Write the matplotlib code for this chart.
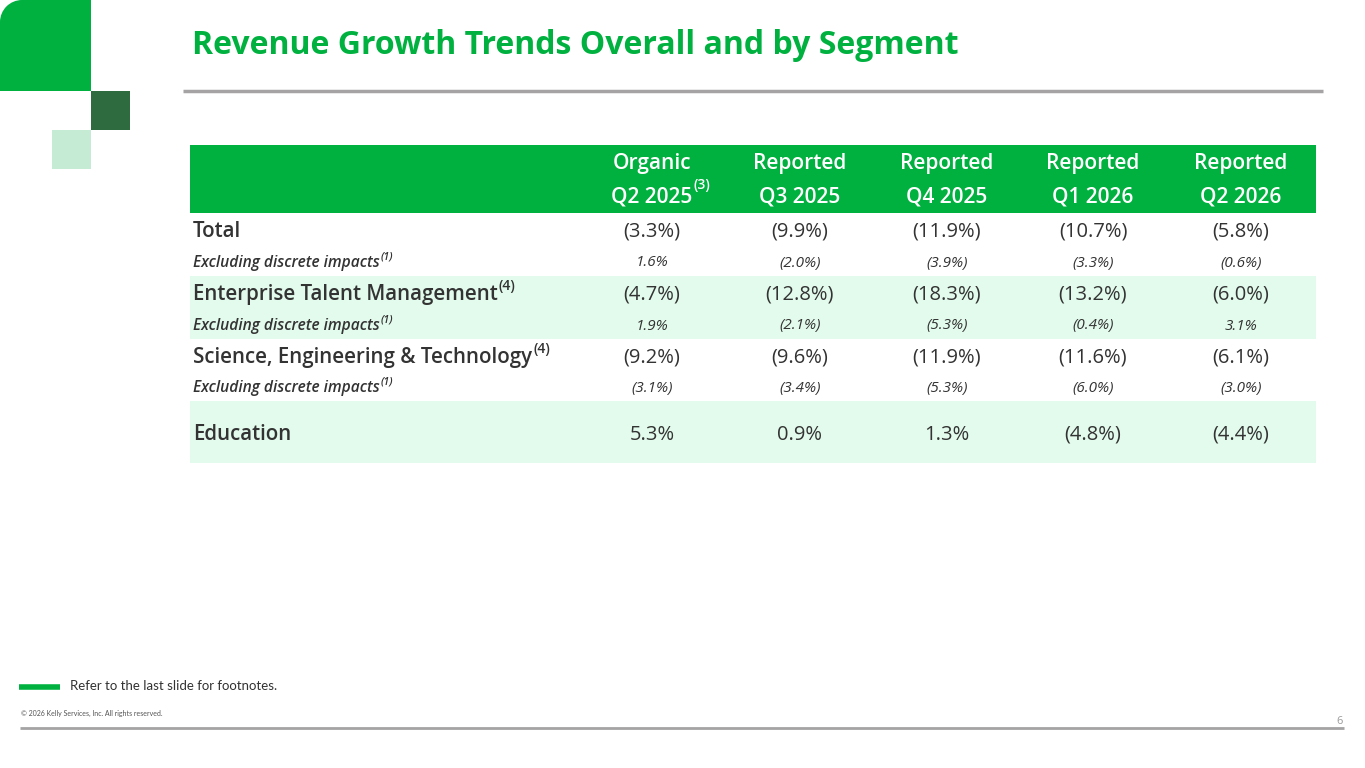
import matplotlib
matplotlib.use("Agg")
import matplotlib.pyplot as plt
from matplotlib.patches import Rectangle, Circle

plt.rcParams['font.family'] = ['Open Sans', 'DejaVu Sans']

# =============================================================================
# Data
# =============================================================================
title = "Revenue Growth Trends Overall and by Segment"
col_top = ["Organic", "Reported", "Reported", "Reported", "Reported"]
col_bottom = ["Q2 2025", "Q3 2025", "Q4 2025", "Q1 2026", "Q2 2026"]
col_sup = ["(3)", "", "", "", ""]

row_labels = ["Total", "Excluding discrete impacts",
              "Enterprise Talent Management", "Excluding discrete impacts",
              "Science, Engineering & Technology", "Excluding discrete impacts",
              "Education"]
row_sup = ["", "(1)", "(4)", "(1)", "(4)", "(1)", ""]
row_is_sub = [False, True, False, True, False, True, False]

total = ["(3.3%)", "(9.9%)", "(11.9%)", "(10.7%)", "(5.8%)"]
total_excl = ["1.6%", "(2.0%)", "(3.9%)", "(3.3%)", "(0.6%)"]
etm = ["(4.7%)", "(12.8%)", "(18.3%)", "(13.2%)", "(6.0%)"]
etm_excl = ["1.9%", "(2.1%)", "(5.3%)", "(0.4%)", "3.1%"]
set_ = ["(9.2%)", "(9.6%)", "(11.9%)", "(11.6%)", "(6.1%)"]
set_excl = ["(3.1%)", "(3.4%)", "(5.3%)", "(6.0%)", "(3.0%)"]
education = ["5.3%", "0.9%", "1.3%", "(4.8%)", "(4.4%)"]
rows = [total, total_excl, etm, etm_excl, set_, set_excl, education]

# =============================================================================
# Layout / style
# =============================================================================
GREEN = "#00B140"
LIGHT = "#E2FBEC"
DARK = "#2E6B3F"
PALE = "#C6EBD5"
TXT = "#333333"
GRAY = "#A5A3A3"
W = "semibold"

tab_left, tab_right = 190, 1316
head_top, head_bot = 145, 213
row_bounds = [213, 245, 276, 308, 339, 371, 401, 463]
row_bg = [None, None, LIGHT, LIGHT, None, None, LIGHT]
col_x = [652, 800, 947, 1093, 1241]
dy = 2.5  # Open Sans sits high with va=center

fig = plt.figure(figsize=(13.65, 7.68), dpi=100)
ax = fig.add_axes([0, 0, 1, 1])
ax.set_xlim(0, 1365)
ax.set_ylim(768, 0)
ax.axis("off")
renderer = fig.canvas.get_renderer()


def text_sup(x, y, s, sup, size, ha="left", **kw):
    # main text plus a small raised suffix
    t = ax.text(x, y, s, fontsize=size, ha=ha, va="center", **kw)
    if sup:
        bb = t.get_window_extent(renderer).transformed(ax.transData.inverted())
        ax.text(bb.x1 + 1, y - size * 0.55, sup, fontsize=size * 0.68,
                ha="left", va="center", **kw)
    return t


# decoration squares top-left
r = 22
ax.add_patch(Rectangle((r, 0), 91 - r, 91, color=GREEN, lw=0))
ax.add_patch(Rectangle((0, r), 91, 91 - r, color=GREEN, lw=0))
ax.add_patch(Circle((r, r), r, color=GREEN, lw=0))
ax.add_patch(Rectangle((91, 91), 39, 39, color=DARK, lw=0))
ax.add_patch(Rectangle((52, 130), 39, 39, color=PALE, lw=0))

# title
ax.text(192, 46, title, fontsize=23, fontweight="bold", color=GREEN,
        ha="left", va="center")
ax.plot([183, 1323], [91, 91], color=GRAY, lw=2.5, solid_capstyle="butt")

# header band
ax.add_patch(Rectangle((tab_left, head_top), tab_right - tab_left,
                       head_bot - head_top, color=GREEN, lw=0))
for i, cx in enumerate(col_x):
    ax.text(cx, 161 + dy, col_top[i], fontsize=15, fontweight=W,
            color="white", ha="center", va="center")
    t = ax.text(cx, 194 + dy, col_bottom[i], fontsize=15, fontweight=W,
                color="white", ha="center", va="center")
    if col_sup[i]:
        bb = t.get_window_extent(renderer).transformed(ax.transData.inverted())
        ax.text(bb.x1 + 1, 185, col_sup[i], fontsize=10, fontweight=W,
                color="white", ha="left", va="center")

# body rows
for j, label in enumerate(row_labels):
    y0, y1 = row_bounds[j], row_bounds[j + 1]
    if row_bg[j]:
        ax.add_patch(Rectangle((tab_left, y0), tab_right - tab_left, y1 - y0,
                               color=row_bg[j], lw=0))
    yc = (y0 + y1) / 2 + dy
    if row_is_sub[j]:
        text_sup(193, yc, label, row_sup[j], 11.2, fontweight=W,
                 style="italic", color=TXT)
        for i, cx in enumerate(col_x):
            ax.text(cx, yc, rows[j][i], fontsize=11, style="italic",
                    color=TXT, ha="center", va="center")
    else:
        text_sup(193, yc, label, row_sup[j], 14.8, fontweight=W,
                 color=TXT)
        for i, cx in enumerate(col_x):
            ax.text(cx, yc, rows[j][i], fontsize=14.5, color=TXT,
                    ha="center", va="center")

# footer
ax.plot([19, 60], [687, 687], color=GREEN, lw=4, solid_capstyle="butt")
ax.text(70, 686, "Refer to the last slide for footnotes.", fontsize=9.5,
        family="Lato", color=TXT, ha="left", va="center")
ax.text(21, 713, "\u00a9 2026 Kelly Services, Inc. All rights reserved.",
        fontsize=5, family="Lato", color="#555555", ha="left", va="center")
ax.plot([20, 1344], [728, 728], color=GRAY, lw=2, solid_capstyle="butt")
ax.text(1340, 721, "6", fontsize=8, color="#999999", ha="center",
        va="center")

fig.savefig("out.png", dpi=100)
